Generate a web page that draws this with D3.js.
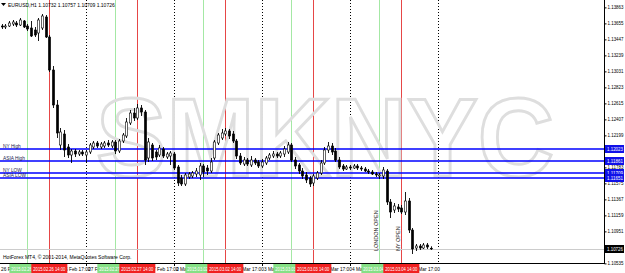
<!DOCTYPE html>
<html>
<head>
<meta charset="utf-8">
<script src="https://d3js.org/d3.v7.min.js"></script>
<style>
html, body { margin: 0; padding: 0; background: #fff; }
svg { display: block; font-family: "Liberation Sans", Arial, sans-serif; }
</style>
</head>
<body>
<svg id="chart" width="625" height="273"></svg>
<script>
// chart values
var title = 'EURUSD,H1  1.10732 1.10757 1.10709 1.10726';
var copyright = 'HotForex MT4, \u00a9 2001-2014, MetaQuotes Software Corp.';
var days = ['2015.02.26', '2015.02.27', '2015.03.02', '2015.03.03', '2015.03.04'];
var dayLabels = ['26 Feb 2015', '27 Feb 2015', '2 Mar 2015', '3 Mar 2015', '4 Mar 2015'];
var shortDays = ['26 Feb', '27 Feb', '2 Mar', '3 Mar', '4 Mar'];
var firstBarHour = 1;          // first bar = 2015.02.26 01:00
var londonHour = 8;
var nyHour = 14;

// H1 bars: [open, high, low, close]
var bars = [
  [1.13621, 1.13647, 1.13582, 1.13608], [1.13608, 1.13647, 1.13582, 1.13621],
  [1.13621, 1.13686, 1.13608, 1.13660], [1.13647, 1.13699, 1.13621, 1.13673],
  [1.13660, 1.13686, 1.13608, 1.13634], [1.13634, 1.13725, 1.13621, 1.13699],
  [1.13686, 1.13699, 1.13595, 1.13608], [1.13621, 1.13647, 1.13556, 1.13582],
  [1.13595, 1.13686, 1.13478, 1.13491], [1.13569, 1.13608, 1.13478, 1.13504],
  [1.13530, 1.13725, 1.13426, 1.13699], [1.13595, 1.13777, 1.13569, 1.13751],
  [1.13738, 1.13764, 1.13465, 1.13478], [1.13478, 1.13504, 1.13023, 1.13049],
  [1.13049, 1.13101, 1.12555, 1.12594], [1.12594, 1.12659, 1.12165, 1.12230],
  [1.12074, 1.12295, 1.12009, 1.12243], [1.12217, 1.12269, 1.11918, 1.12009],
  [1.12048, 1.12087, 1.11905, 1.11944], [1.11944, 1.12022, 1.11840, 1.11996],
  [1.11996, 1.12022, 1.11918, 1.11957], [1.11957, 1.12009, 1.11931, 1.11983],
  [1.11983, 1.12009, 1.11931, 1.11957], [1.11944, 1.12009, 1.11853, 1.11983],
  [1.11983, 1.12100, 1.11957, 1.12074], [1.12048, 1.12126, 1.12022, 1.12100],
  [1.12100, 1.12126, 1.12035, 1.12061], [1.12048, 1.12113, 1.12022, 1.12087],
  [1.12061, 1.12126, 1.12035, 1.12100], [1.12100, 1.12139, 1.12048, 1.12074],
  [1.12061, 1.12139, 1.12035, 1.12113], [1.12113, 1.12139, 1.11957, 1.11996],
  [1.11996, 1.12152, 1.11970, 1.12126], [1.12126, 1.12230, 1.12100, 1.12204],
  [1.12191, 1.12425, 1.12165, 1.12373], [1.12360, 1.12529, 1.12334, 1.12490],
  [1.12490, 1.12555, 1.12386, 1.12425], [1.12425, 1.12607, 1.12399, 1.12555],
  [1.12555, 1.12594, 1.12451, 1.12503], [1.12503, 1.12529, 1.11814, 1.11879],
  [1.11905, 1.12165, 1.11853, 1.12113], [1.12074, 1.12100, 1.11866, 1.11905],
  [1.11983, 1.12009, 1.11879, 1.11918], [1.11944, 1.12074, 1.11918, 1.12035],
  [1.12022, 1.12048, 1.11905, 1.11931], [1.11918, 1.11983, 1.11892, 1.11957],
  [1.11931, 1.11996, 1.11814, 1.11970], [1.11957, 1.11983, 1.11749, 1.11775],
  [1.11788, 1.11814, 1.11541, 1.11580], [1.11645, 1.11684, 1.11541, 1.11567],
  [1.11567, 1.11710, 1.11541, 1.11684], [1.11658, 1.11723, 1.11632, 1.11697],
  [1.11671, 1.11736, 1.11645, 1.11710], [1.11697, 1.11775, 1.11658, 1.11736],
  [1.11684, 1.11840, 1.11619, 1.11801], [1.11801, 1.11827, 1.11658, 1.11723],
  [1.11775, 1.11814, 1.11684, 1.11736], [1.11736, 1.11905, 1.11710, 1.11853],
  [1.11905, 1.12139, 1.11879, 1.12113], [1.12100, 1.12230, 1.12074, 1.12204],
  [1.12165, 1.12282, 1.12139, 1.12230], [1.12217, 1.12295, 1.12191, 1.12256],
  [1.12256, 1.12282, 1.12152, 1.12191], [1.12217, 1.12256, 1.12100, 1.12126],
  [1.12126, 1.12152, 1.11892, 1.11931], [1.11931, 1.11970, 1.11814, 1.11840],
  [1.11827, 1.11918, 1.11801, 1.11879], [1.11879, 1.11905, 1.11801, 1.11827],
  [1.11814, 1.11931, 1.11788, 1.11879], [1.11879, 1.11905, 1.11814, 1.11840],
  [1.11853, 1.11879, 1.11775, 1.11801], [1.11801, 1.11892, 1.11775, 1.11853],
  [1.11840, 1.11931, 1.11814, 1.11905], [1.11905, 1.11970, 1.11879, 1.11944],
  [1.11931, 1.11996, 1.11905, 1.11957], [1.11957, 1.11983, 1.11905, 1.11931],
  [1.11931, 1.11996, 1.11905, 1.11970], [1.11957, 1.12061, 1.11918, 1.12022],
  [1.11983, 1.12113, 1.11957, 1.12074], [1.12074, 1.12100, 1.11853, 1.11879],
  [1.11879, 1.11918, 1.11762, 1.11801], [1.11814, 1.11840, 1.11697, 1.11736],
  [1.11736, 1.11775, 1.11632, 1.11671], [1.11684, 1.11723, 1.11580, 1.11619],
  [1.11645, 1.11671, 1.11528, 1.11567], [1.11580, 1.11697, 1.11541, 1.11671],
  [1.11645, 1.11736, 1.11619, 1.11710], [1.11710, 1.11879, 1.11684, 1.11840],
  [1.11840, 1.12048, 1.11814, 1.12009], [1.12009, 1.12113, 1.11970, 1.12061],
  [1.12061, 1.12100, 1.11944, 1.11983], [1.11996, 1.12035, 1.11853, 1.11879],
  [1.11879, 1.11918, 1.11762, 1.11788], [1.11801, 1.11827, 1.11736, 1.11762],
  [1.11762, 1.11814, 1.11749, 1.11788], [1.11788, 1.11814, 1.11749, 1.11775],
  [1.11775, 1.11827, 1.11762, 1.11801], [1.11801, 1.11827, 1.11749, 1.11775],
  [1.11775, 1.11801, 1.11736, 1.11762], [1.11762, 1.11788, 1.11723, 1.11736],
  [1.11736, 1.11762, 1.11697, 1.11723], [1.11723, 1.11749, 1.11684, 1.11697],
  [1.11697, 1.11723, 1.11658, 1.11684], [1.11671, 1.11710, 1.11632, 1.11684],
  [1.11671, 1.11788, 1.11632, 1.11749], [1.11736, 1.11762, 1.11294, 1.11333],
  [1.11333, 1.11372, 1.11125, 1.11203], [1.11229, 1.11320, 1.11190, 1.11281],
  [1.11268, 1.11307, 1.11203, 1.11242], [1.11255, 1.11294, 1.11177, 1.11203],
  [1.11203, 1.11463, 1.11164, 1.11346], [1.11346, 1.11385, 1.10930, 1.10969],
  [1.10969, 1.10995, 1.10657, 1.10722], [1.10735, 1.10787, 1.10696, 1.10761],
  [1.10761, 1.10787, 1.10709, 1.10735], [1.10735, 1.10800, 1.10722, 1.10774],
  [1.10774, 1.10800, 1.10722, 1.10748], [1.10732, 1.10757, 1.10709, 1.10726]
];

var priceTicks = [1.10535, 1.10743, 1.10951, 1.11159, 1.11367, 1.11575, 1.11783, 1.11991,
                  1.12199, 1.12407, 1.12615, 1.12823, 1.13031, 1.13239, 1.13447, 1.13655, 1.13863];

var levelNames = ['NY High', 'ASIA High', 'NY LOW', 'ASIA LOW'];
var levelPrices = [1.12023, 1.11861, 1.11709, 1.11651];
var lastPrice = 1.10726;

var svg, W = 625, H = 273;
var plotRight = 604, plotBottom = 263;

document.addEventListener('DOMContentLoaded', function () {
    svg = d3.select('#chart');
    drawChart();
});

function drawChart() {
    // hours counted from 26 Feb 00:00, trading days only
    var x = d3.scaleLinear().domain([0, 120]).range([-2, 438]);
    var y = d3.scaleLinear().domain([1.10540, 1.13959]).range([plotBottom, 0]);
    var fmt = d3.format('.5f');
    var px = h => Math.round(x(h)) + 0.5;

    var plot = svg.append('g');

    // day separators (dotted)
    plot.selectAll('.sep')
        .data(days)
        .enter()
        .append('line')
        .attr('x1', (d, i) => px((i + 1) * 24))
        .attr('x2', (d, i) => px((i + 1) * 24))
        .attr('y1', 0)
        .attr('y2', plotBottom)
        .style('stroke', '#000')
        .style('stroke-width', 1)
        .style('stroke-dasharray', '1,2');

    // session lines
    plot.selectAll('.london')
        .data(days)
        .enter()
        .append('line')
        .attr('x1', (d, i) => px(i * 24 + londonHour))
        .attr('x2', (d, i) => px(i * 24 + londonHour))
        .attr('y1', 0)
        .attr('y2', plotBottom)
        .style('stroke', '#a4e8a4')
        .style('stroke-width', 1);

    plot.selectAll('.ny')
        .data(days)
        .enter()
        .append('line')
        .attr('x1', (d, i) => px(i * 24 + nyHour))
        .attr('x2', (d, i) => px(i * 24 + nyHour))
        .attr('y1', 0)
        .attr('y2', plotBottom)
        .style('stroke', '#e64646')
        .style('stroke-width', 1);

    // watermark
    plot.append('text')
        .attr('x', 325)
        .attr('y', 176)
        .attr('text-anchor', 'middle')
        .attr('textLength', 458)
        .attr('lengthAdjust', 'spacingAndGlyphs')
        .style('font-size', '112px')
        .style('font-weight', 'bold')
        .style('fill', 'none')
        .style('stroke', '#dedede')
        .style('stroke-width', 3)
        .text('SMKNYC');

    // last price line
    plot.append('line')
        .attr('x1', 0)
        .attr('x2', plotRight)
        .attr('y1', Math.round(y(lastPrice)) + 0.5)
        .attr('y2', Math.round(y(lastPrice)) + 0.5)
        .style('stroke', '#cccccc')
        .style('stroke-width', 1);

    // session levels
    plot.selectAll('.level')
        .data(levelPrices)
        .enter()
        .append('line')
        .attr('x1', 0)
        .attr('x2', plotRight)
        .attr('y1', d => Math.round(y(d)))
        .attr('y2', d => Math.round(y(d)))
        .style('stroke', '#0000ff')
        .style('stroke-width', 1.6);

    plot.selectAll('.levelName')
        .data(levelNames)
        .enter()
        .append('text')
        .attr('x', 3)
        .attr('y', (d, i) => Math.round(y(levelPrices[i])) - 1.5)
        .style('font-size', '4.8px')
        .style('fill', '#1a1a50')
        .text(d => d);

    // candles
    var candles = plot.selectAll('.candle')
        .data(bars)
        .enter()
        .append('g');

    candles.append('line')
        .attr('x1', (d, i) => px(i + firstBarHour))
        .attr('x2', (d, i) => px(i + firstBarHour))
        .attr('y1', d => y(d[1]))
        .attr('y2', d => y(d[2]))
        .style('stroke', '#000')
        .style('stroke-width', 0.9);

    candles.append('rect')
        .attr('x', (d, i) => px(i + firstBarHour) - 1.1)
        .attr('y', d => y(Math.max(d[0], d[3])))
        .attr('width', 2.2)
        .attr('height', d => Math.max(0.7, Math.abs(y(d[0]) - y(d[3]))))
        .style('fill', d => d[3] >= d[0] ? '#fff' : '#000')
        .style('stroke', '#000')
        .style('stroke-width', 0.6);

    // vertical line captions for the last day
    var lastDay = days.length - 1;
    plot.append('text')
        .attr('transform', `translate(${Math.round(x(lastDay * 24 + londonHour)) - 1}, 251) rotate(-90)`)
        .style('font-size', '5.5px')
        .style('fill', '#222')
        .text('LONDON OPEN');
    plot.append('text')
        .attr('transform', `translate(${Math.round(x(lastDay * 24 + nyHour)) - 1}, 251) rotate(-90)`)
        .style('font-size', '5.5px')
        .style('fill', '#222')
        .text('NY OPEN');

    // title
    svg.append('path')
        .attr('d', 'M1,3 L6,3 L3.5,6 Z')
        .style('fill', '#000');
    svg.append('text')
        .attr('x', 8)
        .attr('y', 7)
        .style('font-size', '5px')
        .style('fill', '#000')
        .text(title);

    svg.append('text')
        .attr('x', 3)
        .attr('y', 259)
        .style('font-size', '5px')
        .style('fill', '#000')
        .text(copyright);

    // white strips for axes
    svg.append('rect').attr('x', plotRight).attr('y', 0).attr('width', W - plotRight).attr('height', H).style('fill', '#fff');
    svg.append('rect').attr('x', 0).attr('y', plotBottom).attr('width', W).attr('height', H - plotBottom).style('fill', '#fff');

    // price axis
    var yAxis = d3.axisRight(y)
        .tickValues(priceTicks)
        .tickSize(2)
        .tickFormat(fmt);
    var ya = svg.append('g')
        .attr('transform', `translate(${plotRight + 0.5}, 0)`)
        .call(yAxis);
    ya.select('.domain').attr('d', `M0,0V${plotBottom}`);
    ya.selectAll('text')
        .attr('x', 3)
        .attr('textLength', 16)
        .attr('lengthAdjust', 'spacingAndGlyphs')
        .style('font-size', '4.8px')
        .style('font-family', '"Liberation Sans", Arial, sans-serif');

    // time axis
    var timeTicks = [];
    days.forEach((d, i) => {
        timeTicks.push({ h: i * 24, label: dayLabels[i] });
        timeTicks.push({ h: i * 24 + 17, label: shortDays[i] + ' 17:00' });
    });
    var xa = svg.append('g');
    xa.append('line')
        .attr('x1', 0).attr('x2', plotRight + 1)
        .attr('y1', plotBottom + 0.5).attr('y2', plotBottom + 0.5)
        .style('stroke', '#000');
    xa.selectAll('.tick')
        .data(timeTicks)
        .enter()
        .append('line')
        .attr('x1', d => px(d.h))
        .attr('x2', d => px(d.h))
        .attr('y1', plotBottom)
        .attr('y2', plotBottom + 3)
        .style('stroke', '#000');
    xa.selectAll('.tlabel')
        .data(timeTicks)
        .enter()
        .append('text')
        .attr('x', d => Math.max(1, x(d.h) + 2))
        .attr('y', 271)
        .style('font-size', '4.8px')
        .style('fill', '#000')
        .text(d => d.label);

    // session label boxes on the time axis
    function sessionBox(hour, fill, dayIndex) {
        var cx = x(dayIndex * 24 + hour);
        var g = svg.append('g');
        g.append('rect')
            .attr('x', cx - 18).attr('y', plotBottom + 1)
            .attr('width', 36).attr('height', 9)
            .style('fill', fill);
        g.append('text')
            .attr('x', cx).attr('y', 270.5)
            .attr('text-anchor', 'middle')
            .attr('textLength', 32)
            .attr('lengthAdjust', 'spacingAndGlyphs')
            .style('font-size', '4.8px')
            .style('fill', '#fff')
            .text(days[dayIndex] + ' ' + d3.format('02')(hour) + ':00');
    }
    days.forEach((d, i) => {
        sessionBox(londonHour, '#85e085', i);
        sessionBox(nyHour, '#f02020', i);
    });

    // price labels for levels and last price
    function priceBox(p, fill) {
        var py = Math.round(y(p));
        svg.append('rect')
            .attr('x', plotRight + 1).attr('y', py - 4)
            .attr('width', W - plotRight - 2).attr('height', 8)
            .style('fill', fill);
        svg.append('text')
            .attr('x', plotRight + 3).attr('y', py + 1.8)
            .attr('textLength', 16)
            .attr('lengthAdjust', 'spacingAndGlyphs')
            .style('font-size', '4.8px')
            .style('fill', '#fff')
            .text(fmt(p));
    }
    levelPrices.forEach(p => priceBox(p, '#1010e8'));
    priceBox(lastPrice, '#000');
}
</script>
</body>
</html>
